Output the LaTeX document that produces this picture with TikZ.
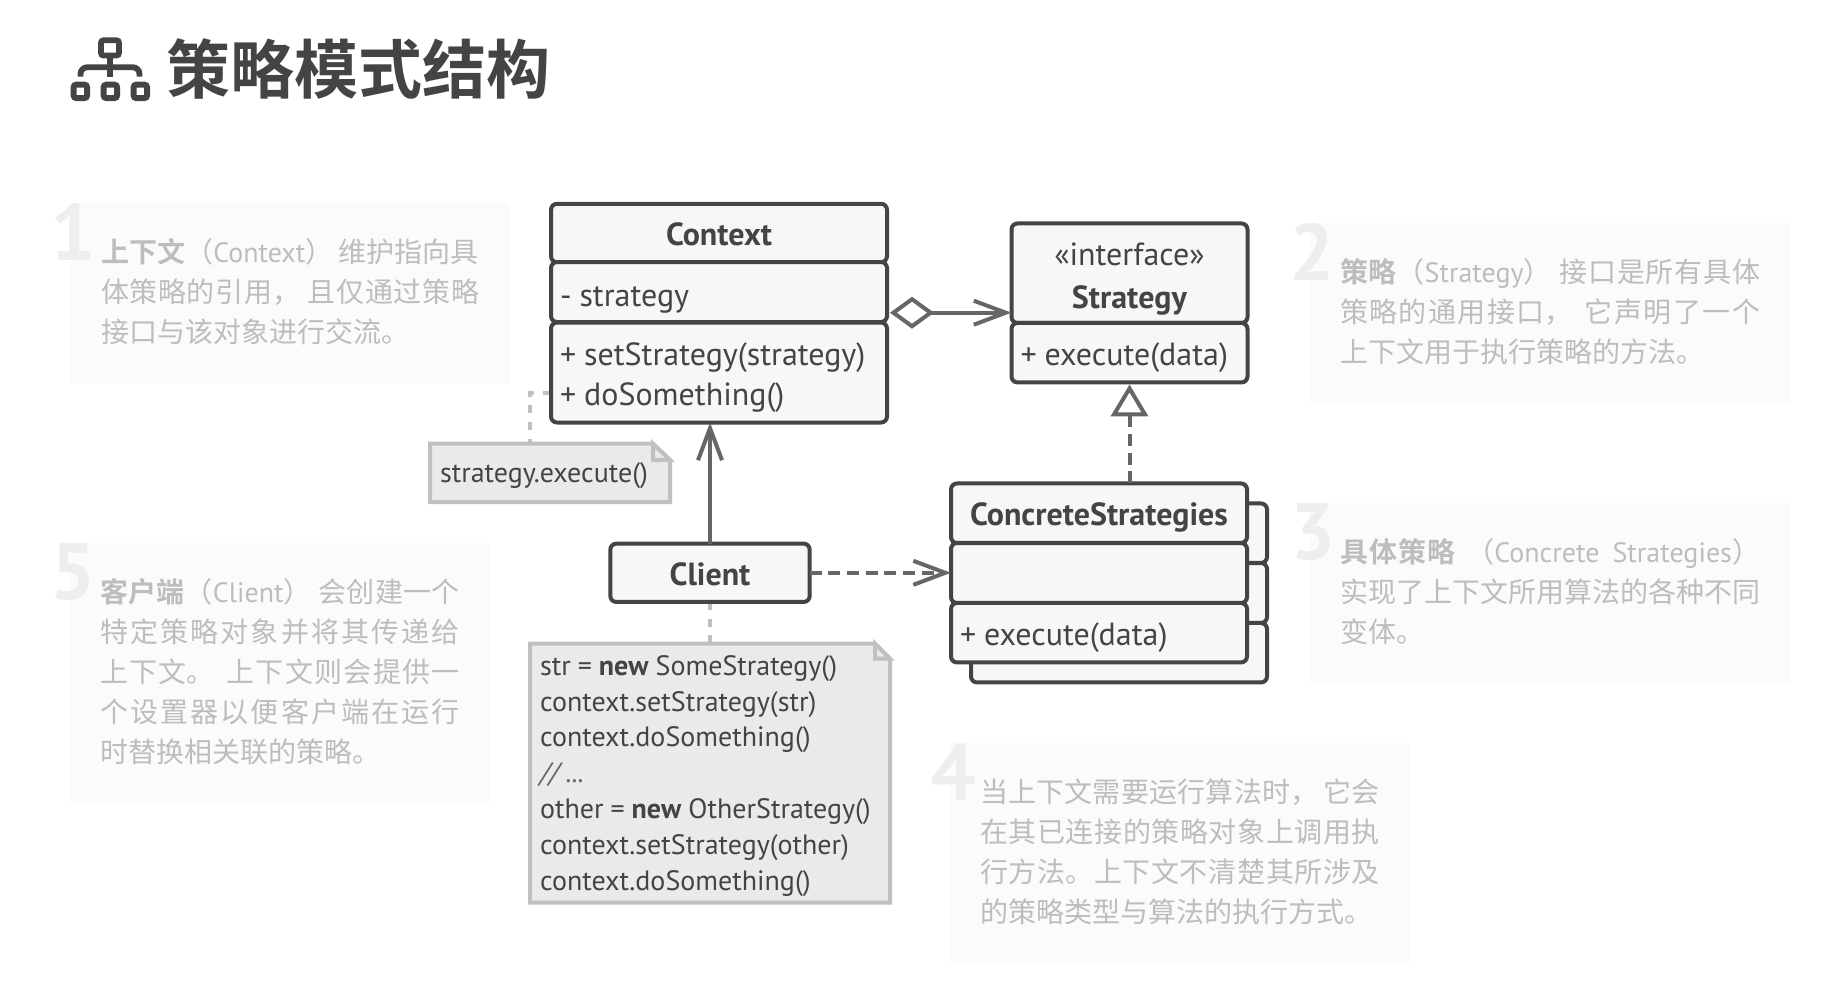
\documentclass[tikz,border=0pt]{standalone}
\usepackage{fontspec}
\usetikzlibrary{arrows.meta,calc}
\setmainfont{PT Sans}
\newfontfamily\cjk{Noto Sans CJK SC}[BoldFont={Noto Sans CJK SC Bold}]
\newlength{\px}\setlength{\px}{0.75pt}
\XeTeXlinebreaklocale "zh"\relax
\XeTeXlinebreakskip=0pt plus 1pt minus 0.2pt\relax
\definecolor{ink}{HTML}{444444}
\definecolor{arrowc}{HTML}{666666}
\definecolor{boxfill}{HTML}{F7F7F7}
\definecolor{notefill}{HTML}{EAEAEA}
\definecolor{noteline}{HTML}{C0C0C0}
\definecolor{panelfill}{HTML}{FBFBFB}
\definecolor{paneltext}{HTML}{BDBDBD}
\definecolor{digitc}{HTML}{EEEEEE}
\newcommand{\cj}[1]{{\cjk #1}}
\newcommand{\gp}{\hskip 3pt plus 6pt minus 3pt\relax}
\newcommand{\jl}[1]{\par\begingroup\tolerance=10000\relax\hbadness=10000\relax\hfuzz=3pt\relax\rightskip=0pt\relax\parfillskip=0pt\relax\spaceskip=.21em plus .3em minus .1em\relax #1\par\endgroup}
\newcommand{\lastl}[1]{\par\begingroup #1\par\endgroup}
\newcommand{\dn}[1]{\par\vspace*{#1\px}\spaceskip=.25em\relax}
\pgfdeclarelayer{under}
\pgfsetlayers{under,main}
\tikzset{
  x=0.75pt,y=-0.75pt,
  classpart/.style={draw=ink,fill=boxfill,line width=3pt,rounded corners=4.5pt,inner sep=0pt,outer sep=0pt,text=ink,font=\fontsize{24}{30}\selectfont},
  partleft/.style={classpart,align=left},
  partcenter/.style={classpart,align=center},
  panel/.style={fill=panelfill,inner ysep=0pt,outer sep=0pt,text=paneltext,align=left,
    font=\fontsize{21}{30}\selectfont},
  digit/.style={text=digitc,font=\fontsize{60}{60}\selectfont\bfseries,inner sep=0pt,outer sep=0pt},
  noteshape/.style={draw=noteline,fill=notefill,line width=3pt,miter limit=10},
  notetext/.style={inner ysep=0pt,outer sep=0pt,text=ink,align=left,font=\fontsize{21}{26.85}\selectfont},
  solidlink/.style={draw=arrowc,line width=3pt},
  dashlink/.style={draw=arrowc,line width=3pt,dash pattern=on 9pt off 5pt},
  notelink/.style={draw=noteline,line width=3pt,dash pattern=on 6pt off 6.5pt},
  openhead/.style={-{Straight Barb[length=24pt,width=18pt,line width=3pt]}},
}
\begin{document}
\begin{tikzpicture}
\useasboundingbox (0,0) rectangle (1834,1000);
% title icon
\begin{scope}[draw=ink,line width=4.4pt,rounded corners=2pt]
\draw (101,40.3) rectangle (119,55.5);
\draw (73.6,84.6) rectangle (87.1,98.1);
\draw (103.6,84.6) rectangle (117.1,98.1);
\draw (133.6,84.6) rectangle (147.1,98.1);
\draw[rounded corners=5pt] (80.5,76.7) -- (80.5,67.3) -- (139.5,67.3) -- (139.5,76.7);
\draw[rounded corners=0pt] (110,56) -- (110,76.7);
\end{scope}
\node[anchor=west,inner sep=0pt,text=ink,font=\cjk\bfseries\fontsize{48}{50}\selectfont] (title) at (166,69) {策略模式结构};
% panels
\node[panel,text width=378\px,inner xsep=31\px,minimum height=180\px] (p1) at (290,293) {\dn{-18.8}\jl{\cj{\bfseries 上下文}\cj{（}Context\cj{）}\gp\cj{维护指向具}}\jl{\cj{体策略的引用，}\gp\cj{且仅通过策略}}\lastl{\cj{接口与该对象进行交流。}}};
\node[panel,text width=420\px,inner xsep=30\px,minimum height=180\px] (p2) at (1550,313) {\dn{-18.8}\jl{\cj{\bfseries 策略}\cj{（}Strategy\cj{）}\gp\cj{接口是所有具体}}\jl{\cj{策略的通用接口，}\gp\cj{它声明了一个}}\lastl{\cj{上下文用于执行策略的方法。}}};
\node[panel,text width=420\px,inner xsep=30\px,minimum height=180\px] (p3) at (1550,593) {\dn{-18.8}\jl{\cj{\bfseries 具体策略}\gp\cj{（}Concrete Strategies\cj{）}}\jl{\cj{实现了上下文所用算法的各种不同}}\lastl{\cj{变体。}}};
\node[panel,text width=400\px,inner xsep=30\px,minimum height=220\px] (p4) at (1180,853) {\dn{-18.8}\jl{\cj{当上下文需要运行算法时，}\gp\cj{它会}}\jl{\cj{在其已连接的策略对象上调用执}}\jl{\cj{行方法。上下文不清楚其所涉及}}\lastl{\cj{的策略类型与算法的执行方式。}}};
\node[panel,text width=360\px,inner xsep=30\px,minimum height=260\px] (p5) at (280,673) {\dn{-18.8}\jl{\cj{\bfseries 客户端}\cj{（}Client\cj{）}\gp\cj{会创建一个}}\jl{\cj{特定策略对象并将其传递给}}\jl{\cj{上下文。}\gp\cj{上下文则会提供一}}\jl{\cj{个设置器以便客户端在运行}}\lastl{\cj{时替换相关联的策略。}}};
\node[digit] (d1) at (73,232) {1};
\node[digit] (d2) at (1312.5,252) {2};
\node[digit] (d3) at (1313,532) {3};
\node[digit] (d4) at (953,772) {4};
\node[digit] (d5) at (73,572) {5};
% notes text
\node[notetext,text width=220\px,inner xsep=10\px,minimum height=58.3\px] (note1) at (550,472.8) {\dn{-9.4}strategy.execute()};
\node[notetext,text width=340\px,inner xsep=10\px,minimum height=258.8\px] (note2) at (710,773.1) {\dn{-10.4}str = \textbf{new} SomeStrategy()\\context.setStrategy(str)\\context.doSomething()\\{\color{arrowc}\itshape // ...}\\other = \textbf{new} OtherStrategy()\\context.setStrategy(other)\\context.doSomething()};
% classes
\node[partcenter,minimum width=336\px,minimum height=58.5\px,text width=314\px] (ctxA) at (719,233) {\dn{-14}\textbf{Context}};
\node[partleft,minimum width=336\px,minimum height=60\px,text width=318\px,inner xsep=9\px] (ctxB) at (719,292) {\dn{-4.8}- strategy};
\node[partleft,minimum width=336\px,minimum height=100\px,text width=318\px,inner xsep=9\px] (ctxC) at (719,372.5) {\dn{-7}+ setStrategy(strategy)\\+ doSomething()};
\node[partcenter,minimum width=236\px,minimum height=99.5\px,text width=214\px] (strA) at (1129.5,273.2) {\dn{-6.4}«interface»\\[3\px]\textbf{Strategy}};
\node[partleft,minimum width=236\px,minimum height=59.5\px,text width=218\px,inner xsep=9\px] (strB) at (1129.5,352.7) {\dn{-7}+ execute(data)};
\foreach \nm/\yy/\hh in {a/533.2/59.5,b/593/60,c/652.7/59.5}{
  \node[classpart,minimum width=296\px,minimum height=\hh\px] (back\nm) at (1119,\yy) {};
}
\node[partcenter,minimum width=296\px,minimum height=59.5\px,text width=280\px] (conA) at (1099,513.2) {\dn{-9.4}\textbf{ConcreteStrategies}};
\node[classpart,minimum width=296\px,minimum height=60\px] (conB) at (1099,573) {};
\node[partleft,minimum width=296\px,minimum height=59.5\px,text width=278\px,inner xsep=9\px] (conC) at (1099,632.7) {\dn{-7}+ execute(data)};
\node[partcenter,minimum width=199.4\px,minimum height=58.3\px,text width=180\px] (client) at (710,572.8) {\dn{-14}\textbf{Client}};
% connectors
\draw[solidlink,openhead] (client.north) -- (client.north |- ctxC.south);
\draw[dashlink,openhead] (client.east) -- (client.east -| conB.west);
\coordinate (agS) at ([yshift=9.3\px,xshift=3\px]ctxB.south east);
\draw[solidlink,{Diamond[open,length=33pt,width=24pt,line width=3pt]}-{Straight Barb[length=24pt,width=18pt,line width=3pt]}] (agS) -- (agS -| strA.west);
\draw[dashlink,-{Triangle[open,length=24pt,width=27.75pt,line width=3pt]},shorten >=2\px] (conA.north -| strB.south) -- (strB.south);
% notes and their links, under everything
\begin{pgfonlayer}{under}
\coordinate (n1a) at ([yshift=-20.5\px]ctxC.west);
\coordinate (n1b) at ([xshift=-20\px]note1.north);
\draw[notelink] (n1a) -| (n1b);
\draw[notelink] (client.south) -- (note2.north);
\draw[noteshape] (430,443.7) -- (653,443.7) -- (670,460) -- (670,502) -- (430,502) -- cycle;
\draw[noteshape] (653,443.7) -- (653,460) -- (670,460) -- cycle;
\draw[noteshape] (530,643.7) -- (875,643.7) -- (890,658.7) -- (890,902.5) -- (530,902.5) -- cycle;
\draw[noteshape] (875,643.7) -- (875,658.7) -- (890,658.7) -- cycle;
\end{pgfonlayer}
\end{tikzpicture}
\end{document}
